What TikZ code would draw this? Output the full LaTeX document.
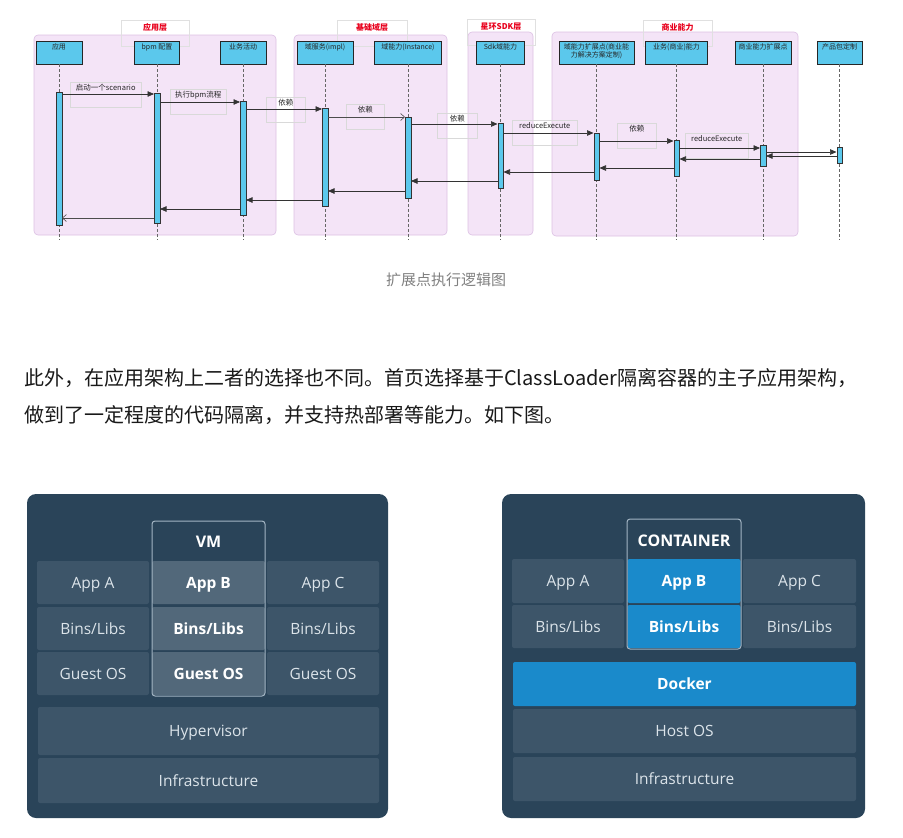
\documentclass[tikz,border=0pt]{standalone}
\usepackage{fontspec}
\newfontfamily\cjk{Noto Sans CJK SC}
\newfontfamily\osans{Open Sans}
\usetikzlibrary{arrows.meta}

\definecolor{lanefill}{HTML}{F4E4F7}
\definecolor{lanebd}{HTML}{DCC0E3}
\definecolor{titlered}{HTML}{E8001C}
\definecolor{actorblue}{HTML}{5BC8EC}
\definecolor{hostnavy}{HTML}{2A4459}
\definecolor{cellslate}{HTML}{3D5569}
\definecolor{vmslate}{HTML}{52687A}
\definecolor{celltext}{HTML}{DCE4EA}
\definecolor{framegray}{HTML}{A3B5C3}
\definecolor{dockblue}{HTML}{1A8ACB}

\begin{document}
\begin{tikzpicture}[x=1pt,y=-1pt,
	lane/.style={draw=lanebd, fill=lanefill, rounded corners=4pt, line width=0.6pt, inner sep=0},
	layertitle/.style={draw=black!12, line width=0.5pt, inner xsep=2pt, inner ysep=1pt, text height=9pt, text depth=15pt, font=\cjk\bfseries\fontsize{8}{9}\selectfont, text=titlered},
	actor/.style={draw=black!85, fill=actorblue, line width=0.6pt, inner xsep=1pt, inner ysep=1pt, text height=7.5pt, text depth=13.5pt, align=center, font=\cjk\fontsize{7}{8}\selectfont, text=black!85},
	actortext/.style={align=center, inner sep=0, font=\cjk\fontsize{7}{8}\selectfont, text=black!85},
	lifeline/.style={draw=black!60, line width=0.6pt, dash pattern={on 3pt off 2pt}},
	bar/.style={draw=black!80, fill=actorblue, line width=0.5pt, minimum width=5.5pt, inner sep=0},
	tag/.style={draw=black!15, line width=0.5pt, anchor=north west, inner xsep=1pt, inner ysep=1pt, text height=7pt, text depth=16pt, font=\cjk\fontsize{7.5}{8}\selectfont, text=black!85},
	msg/.style={draw=black!80, line width=0.6pt, -{Triangle[length=6.5pt,width=5.5pt]}},
	back/.style={draw=black!70, line width=0.6pt, -{Straight Barb[length=4pt,width=7pt]}},
	caption/.style={font=\cjk\fontsize{15}{18}\selectfont, text=black!50},
	para/.style={anchor=west, inner sep=0, font=\cjk\fontsize{20}{24}\selectfont, text=black!90},
	host/.style={fill=hostnavy, rounded corners=9pt, inner sep=0},
	cell/.style={fill=cellslate, rounded corners=2pt, inner sep=0, text height=11pt, text depth=0pt, text=celltext, font=\osans\fontsize{15.5}{18}\selectfont},
	vmcell/.style={cell, fill=vmslate, text=white, font=\osans\bfseries\fontsize{15.5}{18}\selectfont},
	bluecell/.style={cell, fill=dockblue, text=white, font=\osans\bfseries\fontsize{15.5}{18}\selectfont},
	frame/.style={draw=framegray, line width=1pt, rounded corners=3pt, inner sep=0},
	head/.style={text=white, text height=11pt, text depth=0pt, font=\osans\bfseries\fontsize{16}{18}\selectfont}]
	\useasboundingbox (0,0) rectangle (903,838);

	% layers
	\node[lane, minimum width=242, minimum height=200] (lApp) at (155,135) {};
	\node[lane, minimum width=153, minimum height=200] (lDom) at (370.5,135) {};
	\node[lane, minimum width=65, minimum height=203] (lSdk) at (500.5,133.5) {};
	\node[lane, minimum width=246, minimum height=204] (lBiz) at (675,134) {};
	\node[layertitle, minimum width=68] (tApp) at (155,33) {应用层};
	\node[layertitle, minimum width=70] (tDom) at (372,33) {基础域层};
	\node[layertitle, minimum width=68] (tSdk) at (501,32.5) {星环SDK层};
	\node[layertitle, minimum width=69] (tBiz) at (677.5,33) {商业能力};

	% participants
	\node[actor, minimum width=46] (pApp) at (59,52.5) {应用};
	\node[actor, minimum width=45] (pBpm) at (157,52.5) {bpm 配置};
	\node[actor, minimum width=46] (pBiz) at (243,52.5) {业务活动};
	\node[actor, minimum width=56] (pDomSvc) at (325,52.5) {域服务(impl)};
	\node[actor, minimum width=67] (pDomCap) at (408,52.5) {域能力(Instance)};
	\node[actor, minimum width=48] (pSdk) at (500.5,52.5) {Sdk域能力};
	\node[actor, minimum width=75] (pExt) at (596.5,52.5) {};
	\node[actortext, anchor=north] (pExtTxt) at (596.5,43.5) {域能力扩展点(商业能\\力解决方案定制)};
	\node[actor, minimum width=62] (pBizCap) at (676.5,52.5) {业务(商业)能力};
	\node[actor, minimum width=56] (pBizExt) at (763,52.5) {商业能力扩展点};
	\node[actor, minimum width=45] (pProd) at (839.5,52.5) {产品包定制};
	\foreach \p in {pApp,pBpm,pBiz,pDomSvc,pDomCap,pSdk,pExt,pBizCap,pBizExt,pProd}
		\draw[lifeline] (\p.south) -- (\p.south |- 0,240);

	% message labels
	\node[tag, minimum width=71] (m1) at (70,82) {启动一个scenario};
	\node[tag, minimum width=56] (m2) at (170,89) {执行bpm流程};
	\node[tag, minimum width=39] (m3) at (266,97) {依赖};
	\node[tag, minimum width=38] (m4) at (346,104) {依赖};
	\node[tag, minimum width=40] (m5) at (437,113) {依赖};
	\node[tag, minimum width=65] (m6) at (512,120) {reduceExecute};
	\node[tag, minimum width=39] (m7) at (617,123) {依赖};
	\node[tag, minimum width=63] (m8) at (685,133) {reduceExecute};

	% activations
	\node[bar, minimum height=133] (aApp) at (59,158.5) {};
	\node[bar, minimum height=130] (aBpm) at (157,158) {};
	\node[bar, minimum height=114] (aBiz) at (243,158) {};
	\node[bar, minimum height=98] (aDomSvc) at (325,157) {};
	\node[bar, minimum height=81] (aDomCap) at (408,157.5) {};
	\node[bar, minimum height=65] (aSdk) at (500.5,155.5) {};
	\node[bar, minimum height=47] (aExt) at (596.5,156.5) {};
	\node[bar, minimum height=36] (aBizCap) at (676.5,158) {};
	\node[bar, minimum height=21] (aBizExt) at (763,155.5) {};
	\node[bar, minimum height=16] (aProd) at (839.5,155) {};

	% calls
	\draw[msg] (aApp.east |- 0,94) -- (aBpm.west |- 0,94);
	\draw[msg] (aBpm.east |- 0,102) -- (aBiz.west |- 0,102);
	\draw[msg] (aBiz.east |- 0,109) -- (aDomSvc.west |- 0,109);
	\draw[back] (aDomSvc.east |- 0,117) -- (aDomCap.west |- 0,117);
	\draw[msg] (aDomCap.east |- 0,124) -- (aSdk.west |- 0,124);
	\draw[msg] (aSdk.east |- 0,133) -- (aExt.west |- 0,133);
	\draw[msg] (aExt.east |- 0,141) -- (aBizCap.west |- 0,141);
	\draw[msg] (aBizCap.east |- 0,148) -- (aBizExt.west |- 0,148);
	\draw[msg] (aBizExt.east |- 0,152) -- (aProd.west |- 0,152);
	% returns
	\draw[msg] (aProd.west |- 0,156) -- (aBizExt.east |- 0,156);
	\draw[msg] (aBizExt.west |- 0,159) -- (aBizCap.east |- 0,159);
	\draw[msg] (aBizCap.west |- 0,168) -- (aExt.east |- 0,168);
	\draw[msg] (aExt.west |- 0,172) -- (aSdk.east |- 0,172);
	\draw[msg] (aSdk.west |- 0,181) -- (aDomCap.east |- 0,181);
	\draw[msg] (aDomCap.west |- 0,191) -- (aDomSvc.east |- 0,191);
	\draw[msg] (aDomSvc.west |- 0,200) -- (aBiz.east |- 0,200);
	\draw[msg] (aBiz.west |- 0,209) -- (aBpm.east |- 0,209);
	\draw[back] (aBpm.west |- 0,218) -- (aApp.east |- 0,218);

	\node[caption] (cap) at (446,280) {扩展点执行逻辑图};
	\node[para] (line1) at (24,378) {此外，在应用架构上二者的选择也不同。首页选择基于ClassLoader隔离容器的主子应用架构，};
	\node[para] (line2) at (24,415) {做到了一定程度的代码隔离，并支持热部署等能力。如下图。};

	% VM stack
	\node[host, minimum width=361, minimum height=324] (vmHost) at (207.5,656) {};
	\node[cell, minimum width=112, minimum height=43] (vAppA) at (93,582.5) {App A};
	\node[vmcell, minimum width=113, minimum height=43] (vAppB) at (208.5,582.5) {App B};
	\node[cell, minimum width=112, minimum height=43] (vAppC) at (323,582.5) {App C};
	\node[cell, minimum width=112, minimum height=43] (vBinA) at (93,628.5) {Bins/Libs};
	\node[vmcell, minimum width=113, minimum height=43] (vBinB) at (208.5,628.5) {Bins/Libs};
	\node[cell, minimum width=112, minimum height=43] (vBinC) at (323,628.5) {Bins/Libs};
	\node[cell, minimum width=112, minimum height=43] (vOsA) at (93,673.5) {Guest OS};
	\node[vmcell, minimum width=113, minimum height=43] (vOsB) at (208.5,673.5) {Guest OS};
	\node[cell, minimum width=112, minimum height=43] (vOsC) at (323,673.5) {Guest OS};
	\node[frame, minimum width=113, minimum height=175] (vmBox) at (208.5,608.5) {};
	\node[head] (vmHead) at (208.5,542) {VM};
	\node[cell, minimum width=341, minimum height=48] (hyper) at (208.5,731) {Hypervisor};
	\node[cell, minimum width=341, minimum height=45] (vInfra) at (208.5,780.5) {Infrastructure};

	% container stack
	\node[host, minimum width=363, minimum height=324] (ctHost) at (683.5,656) {};
	\node[cell, minimum width=112, minimum height=44] (cAppA) at (568,581) {App A};
	\node[bluecell, minimum width=113, minimum height=44] (cAppB) at (684,581) {App B};
	\node[cell, minimum width=113, minimum height=44] (cAppC) at (799.5,581) {App C};
	\node[cell, minimum width=112, minimum height=43] (cBinA) at (568,626.5) {Bins/Libs};
	\node[bluecell, minimum width=113, minimum height=43] (cBinB) at (684,626.5) {Bins/Libs};
	\node[cell, minimum width=113, minimum height=43] (cBinC) at (799.5,626.5) {Bins/Libs};
	\node[frame, minimum width=114, minimum height=130] (ctBox) at (684,584) {};
	\node[head] (ctHead) at (684,541) {CONTAINER};
	\node[bluecell, minimum width=343, minimum height=44] (docker) at (684.5,684) {Docker};
	\node[cell, minimum width=343, minimum height=44] (hostOs) at (684.5,731) {Host OS};
	\node[cell, minimum width=343, minimum height=44] (cInfra) at (684.5,779) {Infrastructure};
\end{tikzpicture}
\end{document}
